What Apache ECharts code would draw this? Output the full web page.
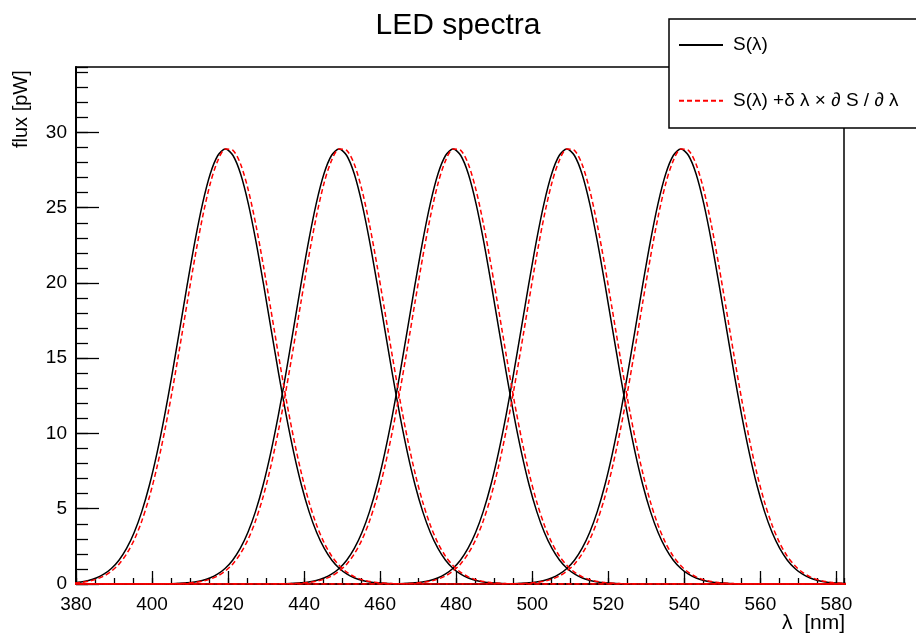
<!DOCTYPE html>
<html>
<head>
<meta charset="utf-8">
<title>LED spectra</title>
<script src="https://cdn.jsdelivr.net/npm/echarts@6/dist/echarts.min.js"></script>
<style>
  html, body { margin: 0; padding: 0; background: #fff; }
  #chart { width: 916px; height: 638px; }
</style>
</head>
<body>
<div id="chart"></div>
<script>
// peak position of each LED (nm)
const peakWavelengths = [419.3, 449.2, 479.2, 509.1, 539.1]

// wavelength offsets from the peak (nm), shared by every LED
const offsets = [-170, -130, -90, -60,
  -50, -48, -46, -44, -42, -40, -38, -36, -34, -32, -30, -28, -26,
  -24, -22, -20, -18, -16, -14, -12, -10, -8, -6, -4, -2, 0,
  2, 4, 6, 8, 10, 12, 14, 16, 18, 20, 22, 24, 26,
  28, 30, 32, 34, 36, 38, 40, 42, 44, 46, 48, 50,
  60, 90, 130, 170]

// S(lambda), flux [pW]
const fluxS = [0, 0, 0, 0,
  0.003, 0.006, 0.011, 0.022, 0.042, 0.077, 0.137, 0.237, 0.398, 0.649, 1.03, 1.58, 2.36,
  3.42, 4.81, 6.56, 8.70, 11.19, 13.98, 16.95, 19.95, 22.80, 25.29, 27.24, 28.47, 28.9,
  28.47, 27.24, 25.29, 22.80, 19.95, 16.95, 13.98, 11.19, 8.70, 6.56, 4.81, 3.42, 2.36,
  1.58, 1.03, 0.649, 0.398, 0.237, 0.137, 0.077, 0.042, 0.022, 0.011, 0.006, 0.003,
  0, 0, 0, 0]

// S + dl * dS/dl, flux [pW]
const fluxShifted = [0, 0, 0, 0,
  0.002, 0.004, 0.008, 0.016, 0.032, 0.059, 0.106, 0.186, 0.318, 0.526, 0.847, 1.32, 2.00,
  2.93, 4.18, 5.78, 7.77, 10.13, 12.82, 15.74, 18.77, 21.72, 24.39, 26.59, 28.13, 28.9,
  28.81, 27.89, 26.19, 23.88, 21.13, 18.16, 15.14, 12.25, 9.63, 7.34, 5.44, 3.91, 2.72,
  1.84, 1.21, 0.772, 0.478, 0.288, 0.168, 0.095, 0.052, 0.028, 0.014, 0.008, 0.004,
  0, 0, 0, 0]

const xRange = [380, 582]
const yRange = [0, 34.35]

const nameS = 'S(λ)'
const nameShift = 'S(λ) +δ λ × ∂ S / ∂ λ'

const FONT = 'Liberation Sans, Arial, Helvetica, sans-serif'

let chart = echarts.init(document.getElementById('chart'), null, { renderer: 'canvas' })

let series = []
peakWavelengths.forEach((peak) => {
  series.push({
    name: nameS,
    type: 'line',
    data: offsets.map((o, i) => [peak + o, fluxS[i]]),
    symbol: 'none',
    smooth: 0.3,
    lineStyle: { color: '#000', width: 1.5 },
    itemStyle: { color: '#000' },
    z: 3
  })
})
peakWavelengths.forEach((peak) => {
  series.push({
    name: nameShift,
    type: 'line',
    data: offsets.map((o, i) => [peak + o, fluxShifted[i]]),
    symbol: 'none',
    smooth: 0.3,
    lineStyle: { color: '#ff0000', width: 1.5, type: [5, 3] },
    itemStyle: { color: '#ff0000' },
    z: 4
  })
})

let onlyMultiple = (step) => (v) => (Math.abs(v / step - Math.round(v / step)) < 1e-6 ? String(v) : '')

let option = {
  animation: false,
  backgroundColor: '#fff',
  title: {
    text: 'LED spectra',
    left: 'center',
    top: 6,
    textStyle: { fontFamily: FONT, fontSize: 30, fontWeight: 'normal', color: '#000' }
  },
  legend: {
    orient: 'vertical',
    left: 669,
    top: 19,
    itemWidth: 44,
    itemHeight: 19,
    itemGap: 36.7,
    padding: [16.5, 24, 17.8, 9],
    backgroundColor: '#fff',
    borderColor: '#000',
    borderWidth: 1.5,
    borderRadius: 0,
    selectedMode: false,
    itemStyle: { opacity: 0 },
    data: [nameS, nameShift],
    textStyle: { fontFamily: FONT, fontSize: 19, color: '#000', padding: [0, 0, 0, 5] },
    z: 10
  },
  grid: {
    left: 76,
    right: 72,
    top: 67,
    bottom: 54,
    show: true,
    borderColor: '#000',
    borderWidth: 1.5,
    containLabel: false
  },
  xAxis: [
    {
      type: 'value',
      min: xRange[0],
      max: xRange[1],
      interval: 20,
      axisLine: { show: true, onZero: false, lineStyle: { color: '#000', width: 2 } },
      axisTick: { show: true, inside: true, length: 13, lineStyle: { color: '#000', width: 1.3 } },
      axisLabel: {
        margin: 11, fontFamily: FONT, fontSize: 19, color: '#000',
        showMaxLabel: false, formatter: onlyMultiple(20)
      },
      splitLine: { show: false }
    },
    {
      type: 'value',
      position: 'bottom',
      min: xRange[0],
      max: xRange[1],
      interval: 5,
      axisLine: { show: false },
      axisTick: { show: true, inside: true, length: 6, lineStyle: { color: '#000', width: 1.3 } },
      axisLabel: { show: false },
      splitLine: { show: false }
    }
  ],
  yAxis: [
    {
      type: 'value',
      min: yRange[0],
      max: yRange[1],
      interval: 5,
      axisLine: { show: true, onZero: false, lineStyle: { color: '#000', width: 2 } },
      axisTick: { show: true, inside: true, length: 23, lineStyle: { color: '#000', width: 1.3 } },
      axisLabel: {
        margin: 9, fontFamily: FONT, fontSize: 19, color: '#000',
        showMaxLabel: false, formatter: onlyMultiple(5)
      },
      splitLine: { show: false }
    },
    {
      type: 'value',
      position: 'left',
      min: yRange[0],
      max: yRange[1],
      interval: 1,
      axisLine: { show: false },
      axisTick: { show: true, inside: true, length: 12, lineStyle: { color: '#000', width: 1.3 } },
      axisLabel: { show: false },
      splitLine: { show: false }
    }
  ],
  graphic: [
    {
      type: 'text',
      x: 21,
      y: 148,
      rotation: Math.PI / 2,
      style: {
        text: 'flux [pW]',
        fontFamily: FONT,
        fontSize: 20,
        fill: '#000',
        align: 'left',
        verticalAlign: 'middle'
      }
    },
    {
      type: 'text',
      right: 71,
      top: 613,
      style: {
        text: 'λ  [nm]',
        fontFamily: FONT,
        fontSize: 21,
        fill: '#000'
      }
    }
  ],
  series: series
}

chart.setOption(option)
</script>
</body>
</html>
